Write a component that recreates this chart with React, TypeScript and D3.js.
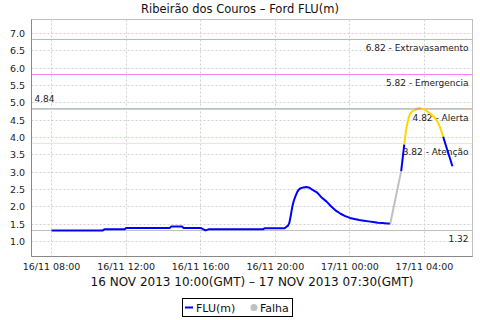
import React from 'react';
import * as d3 from 'd3';

const TITLE = 'Ribeirão dos Couros – Ford FLU(m)';
const SUBTITLE = '16 NOV 2013 10:00(GMT) – 17 NOV 2013 07:30(GMT)';

const times = [
  '2013-11-16 08:00', '2013-11-16 08:15', '2013-11-16 08:30', '2013-11-16 08:45',
  '2013-11-16 09:00', '2013-11-16 09:15', '2013-11-16 09:30', '2013-11-16 09:45',
  '2013-11-16 10:00', '2013-11-16 10:15', '2013-11-16 10:30', '2013-11-16 10:45',
  '2013-11-16 10:50', '2013-11-16 11:15', '2013-11-16 11:35', '2013-11-16 11:55',
  '2013-11-16 12:00', '2013-11-16 12:30', '2013-11-16 13:00', '2013-11-16 13:30',
  '2013-11-16 14:00', '2013-11-16 14:20', '2013-11-16 14:25', '2013-11-16 14:45',
  '2013-11-16 15:00', '2013-11-16 15:05', '2013-11-16 15:30', '2013-11-16 16:00',
  '2013-11-16 16:15', '2013-11-16 16:25', '2013-11-16 17:00', '2013-11-16 17:30',
  '2013-11-16 18:00', '2013-11-16 18:30', '2013-11-16 19:00', '2013-11-16 19:20',
  '2013-11-16 19:25', '2013-11-16 19:45', '2013-11-16 20:00', '2013-11-16 20:15',
  '2013-11-16 20:30', '2013-11-16 20:35', '2013-11-16 20:40', '2013-11-16 20:45',
  '2013-11-16 20:50', '2013-11-16 20:55', '2013-11-16 21:00', '2013-11-16 21:05',
  '2013-11-16 21:10', '2013-11-16 21:15', '2013-11-16 21:20', '2013-11-16 21:30',
  '2013-11-16 21:40', '2013-11-16 21:50', '2013-11-16 22:00', '2013-11-16 22:15',
  '2013-11-16 22:30', '2013-11-16 22:45', '2013-11-16 23:00', '2013-11-16 23:15',
  '2013-11-16 23:30', '2013-11-16 23:45', '2013-11-17 00:00', '2013-11-17 00:15',
  '2013-11-17 00:30', '2013-11-17 00:45', '2013-11-17 01:00', '2013-11-17 01:15',
  '2013-11-17 01:30', '2013-11-17 01:45', '2013-11-17 02:00', '2013-11-17 02:10',
  '2013-11-17 02:45', '2013-11-17 02:55', '2013-11-17 03:00', '2013-11-17 03:05',
  '2013-11-17 03:10', '2013-11-17 03:15', '2013-11-17 03:20', '2013-11-17 03:30',
  '2013-11-17 03:40', '2013-11-17 03:50', '2013-11-17 04:00', '2013-11-17 04:10',
  '2013-11-17 04:20', '2013-11-17 04:30', '2013-11-17 04:40', '2013-11-17 04:45',
  '2013-11-17 04:50', '2013-11-17 04:55', '2013-11-17 05:00', '2013-11-17 05:30',
];

const values = [
  1.32, 1.32, 1.32, 1.32,
  1.32, 1.32, 1.32, 1.32,
  1.32, 1.32, 1.32, 1.32,
  1.35, 1.35, 1.35, 1.35,
  1.39, 1.39, 1.39, 1.39,
  1.39, 1.39, 1.43, 1.43,
  1.43, 1.39, 1.39, 1.39,
  1.32, 1.35, 1.35, 1.35,
  1.35, 1.35, 1.35, 1.35,
  1.38, 1.38, 1.38, 1.38,
  1.38, 1.42, 1.45, 1.53,
  1.76, 2.02, 2.19, 2.31,
  2.42, 2.49, 2.53, 2.56,
  2.57, 2.55, 2.49, 2.41,
  2.26, 2.15, 2.01, 1.89,
  1.80, 1.73, 1.68, 1.65,
  1.62, 1.60, 1.58, 1.56,
  1.54, 1.53, 1.52, 1.52,
  3.03, 3.80, 4.18, 4.42,
  4.60, 4.70, 4.75, 4.80,
  4.84, 4.84, 4.81, 4.75,
  4.68, 4.60, 4.48, 4.40,
  4.30, 4.17, 4.02, 3.17,
];

const falhaStart = '2013-11-17 02:10';

const levelValues = [6.82, 5.82, 4.82, 3.82];
const levelNames = ['Extravasamento', 'Emergencia', 'Alerta', 'Atenção'];
const levelColors = ['#f0a0a0', '#ff80ff', '#f5c89a', '#ffe9a0'];

const COLOR_NORMAL = '#0000ff';
const COLOR_ATENCAO = '#ffd700';
const COLOR_ALERTA = '#eea050';
const COLOR_FALHA = '#c0c0c0';

const yTicks = [1.0, 1.5, 2.0, 2.5, 3.0, 3.5, 4.0, 4.5, 5.0, 5.5, 6.0, 6.5, 7.0];
const xTickTimes = [
  '2013-11-16 08:00', '2013-11-16 12:00', '2013-11-16 16:00',
  '2013-11-16 20:00', '2013-11-17 00:00', '2013-11-17 04:00',
];
const xTickLabels = ['16/11 08:00', '16/11 12:00', '16/11 16:00', '16/11 20:00', '17/11 00:00', '17/11 04:00'];
const legendLabels = ['FLU(m)', 'Falha'];

const FONT = '"DejaVu Sans", sans-serif';

export default function App() {
  const parse = d3.utcParse('%Y-%m-%d %H:%M');
  const dates = times.map((t) => parse(t) as Date);
  const [t0, t1] = d3.extent(dates) as [Date, Date];
  const span = +t1 - +t0;
  const left = 31.5, right = 472.5, top = 19.5, bottom = 256.5;

  const x = d3.scaleUtc()
    .domain([new Date(+t0 - span * 0.05), new Date(+t1 + span * 0.05)])
    .range([left, right]);
  const y = d3.scaleLinear().domain([0.567, 7.404]).range([bottom, top]);

  const maxV = d3.max(values) as number;
  const minV = d3.min(values) as number;

  const colorFor = (i: number) => {
    if (times[i - 1] === falhaStart) return COLOR_FALHA;
    const v = values[i];
    if (v >= levelValues[2]) return COLOR_ALERTA;
    if (v >= levelValues[3]) return COLOR_ATENCAO;
    return COLOR_NORMAL;
  };

  const groups: { color: string; idx: number[] }[] = [];
  for (let i = 1; i < values.length; i++) {
    const c = colorFor(i);
    const last = groups[groups.length - 1];
    if (last && last.color === c) last.idx.push(i);
    else groups.push({ color: c, idx: [i - 1, i] });
  }
  const line = d3.line<number>()
    .x((i) => x(dates[i]))
    .y((i) => y(values[i]));

  const fmt2 = d3.format('.2f');
  const fmt1 = d3.format('.1f');
  const snap = (v: number) => Math.round(v - 0.5) + 0.5;

  return (
    <svg width={480} height={320} style={{ position: 'absolute', left: 0, top: 0, background: '#fff' }}
      fontFamily={FONT}>
      <rect x={0} y={0} width={480} height={320} fill="#fff" />
      <text x={240} y={12.5} fontSize={11.5} textAnchor="middle" fill="#111">{TITLE}</text>

      <rect x={left} y={top} width={right - left} height={bottom - top} fill="#fff" stroke="#c0c0c0" />

      {yTicks.map((v) => (
        <line key={'gy' + v} x1={left} x2={right} y1={snap(y(v))} y2={snap(y(v))}
          stroke="#d0d0d0" strokeDasharray="2,2" />
      ))}
      {xTickTimes.map((t) => {
        const xx = snap(x(parse(t) as Date));
        return <line key={'gx' + t} x1={xx} x2={xx} y1={top} y2={bottom} stroke="#d0d0d0" strokeDasharray="2,2" />;
      })}

      {levelValues.map((v, i) => (
        <line key={'lv' + v} x1={left} x2={right} y1={snap(y(v))} y2={snap(y(v))} stroke={levelColors[i]} />
      ))}
      <line x1={left} x2={right} y1={snap(y(maxV))} y2={snap(y(maxV))} stroke="#c0c0c0" />
      <line x1={left} x2={right} y1={snap(y(minV))} y2={snap(y(minV))} stroke="#c0c0c0" />

      {levelValues.map((v, i) => (
        <text key={'lt' + v} x={468.5} y={y(v) + 11.7} fontSize={9} textAnchor="end" fill="#222">
          {fmt2(v) + ' - ' + levelNames[i]}
        </text>
      ))}
      <text x={34.5} y={y(maxV) - 6} fontSize={9} fill="#222">{fmt2(maxV)}</text>
      <text x={468.5} y={y(minV) + 11.7} fontSize={9} textAnchor="end" fill="#222">{fmt2(minV)}</text>

      {groups.map((g, k) => (
        <path key={'s' + k} d={line(g.idx) as string} fill="none" stroke={g.color} strokeWidth={2}
          strokeLinejoin="round" strokeLinecap="butt" />
      ))}

      <line x1={left} x2={left} y1={top} y2={bottom} stroke="#888" />
      <line x1={left} x2={right} y1={bottom} y2={bottom} stroke="#888" />
      {yTicks.map((v) => (
        <text key={'ty' + v} x={25} y={y(v) + 3.4} fontSize={9.5} textAnchor="end" fill="#222">{fmt1(v)}</text>
      ))}
      {xTickTimes.map((t, i) => (
        <text key={'tx' + t} x={x(parse(t) as Date)} y={270} fontSize={9.5} textAnchor="middle" fill="#222">
          {xTickLabels[i]}
        </text>
      ))}
      <text x={(left + right) / 2} y={285.5} fontSize={12} textAnchor="middle" fill="#111">{SUBTITLE}</text>

      <rect x={182.5} y={298.5} width={110} height={18} fill="#fff" stroke="#000" />
      <line x1={185} x2={193} y1={307.5} y2={307.5} stroke={COLOR_NORMAL} strokeWidth={2} />
      <text x={196} y={311.5} fontSize={11} fill="#111">{legendLabels[0]}</text>
      <circle cx={254} cy={307.5} r={3.5} fill={COLOR_FALHA} />
      <text x={260} y={311.5} fontSize={11} fill="#111">{legendLabels[1]}</text>
    </svg>
  );
}
